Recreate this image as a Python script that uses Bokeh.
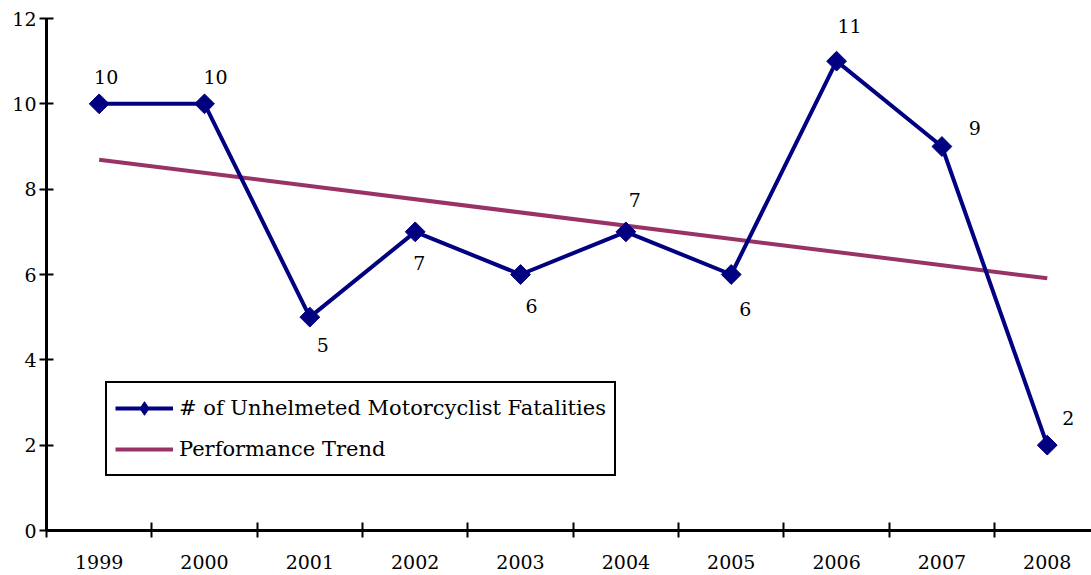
import math
from bokeh.plotting import figure
from bokeh.models import Range1d, FixedTicker, ColumnDataSource, Legend, LegendItem
from bokeh.core.properties import value
from bokeh.embed import file_html
from bokeh.resources import INLINE

years = ["1999", "2000", "2001", "2002", "2003", "2004", "2005", "2006", "2007", "2008"]
fatalities = [10, 10, 5, 7, 6, 7, 6, 11, 9, 2]
trend_ends = [8.69, 5.91]
y_ticks = [0, 2, 4, 6, 8, 10, 12]

# label placement (screen px)
lab_dx = [7, 11, 13, 4, 11, 9, 14, 13, 33, 21]
lab_dy = [-27, -27, 28, 31, 31, -32, 34, -35, -19, -27]

FONT = "DejaVu Serif"
FS = "19px"
NAVY = "#000080"
PLUM = "#993366"

xs = list(range(len(years)))

p = figure(width=1091, height=575, output_backend="svg", toolbar_location=None,
           x_range=Range1d(-0.5, 9.42), y_range=Range1d(0, 12),
           min_border_left=46, min_border_top=18, min_border_right=0, min_border_bottom=45)
p.outline_line_color = None
p.xgrid.visible = False
p.ygrid.visible = False
p.background_fill_color = "white"
p.border_fill_color = "white"

src = ColumnDataSource(dict(x=xs, y=fatalities, t=[str(v) for v in fatalities], dx=lab_dx, dy=lab_dy))

tr = p.line([xs[0], xs[-1]], trend_ends, line_color=PLUM, line_width=4)
ln = p.line("x", "y", source=src, line_color=NAVY, line_width=4)
sc = p.scatter("x", "y", source=src, marker="square", angle=math.pi / 4, size=14,
               fill_color=NAVY, line_color=NAVY)
# legend-only diamond marker (hidden in the plot area)
lg_marker = p.scatter("x", "y", source=src, marker="diamond", size=17,
                      fill_color=NAVY, line_color=NAVY, visible=False)
p.text("x", "y", text="t", source=src, x_offset="dx", y_offset="dy",
       text_font=value(FONT), text_font_size=FS, text_align="center", text_baseline="middle",
       text_color="black")

# axes
xa = p.xaxis[0]
xa.ticker = FixedTicker(ticks=xs, minor_ticks=[i - 0.5 for i in range(len(years))])
xa.major_label_overrides = {i: y for i, y in enumerate(years)}
xa.major_tick_in = 0
xa.major_tick_out = 0
xa.minor_tick_in = 8
xa.minor_tick_out = 7
xa.minor_tick_line_color = "black"
xa.minor_tick_line_width = 2
xa.axis_line_width = 3
xa.axis_line_color = "black"
xa.major_label_standoff = 17
xa.major_label_text_font = FONT
xa.major_label_text_font_size = FS
xa.major_label_text_color = "black"

ya = p.yaxis[0]
ya.ticker = FixedTicker(ticks=y_ticks)
ya.minor_tick_line_color = None
ya.major_tick_in = 7
ya.major_tick_out = 7
ya.major_tick_line_width = 2
ya.major_tick_line_color = "black"
ya.axis_line_width = 3
ya.axis_line_color = "black"
ya.major_label_standoff = 3
ya.major_label_text_font = FONT
ya.major_label_text_font_size = FS
ya.major_label_text_color = "black"

legend = Legend(items=[
    LegendItem(label="# of Unhelmeted Motorcyclist Fatalities", renderers=[ln, lg_marker]),
    LegendItem(label="Performance Trend", renderers=[tr]),
], location=(59, 54))
legend.label_text_font = FONT
legend.label_text_font_size = "21px"
legend.label_text_color = "black"
legend.border_line_color = "black"
legend.border_line_alpha = 1
legend.border_line_width = 2
legend.glyph_width = 58
legend.glyph_height = 34
legend.label_height = 34
legend.label_standoff = 6
legend.spacing = 7
legend.padding = 8
legend.margin = 0
legend.background_fill_alpha = 1
legend.inactive_fill_alpha = 0
p.add_layout(legend, "center")

open("out.html", "w").write(file_html(p, INLINE))
